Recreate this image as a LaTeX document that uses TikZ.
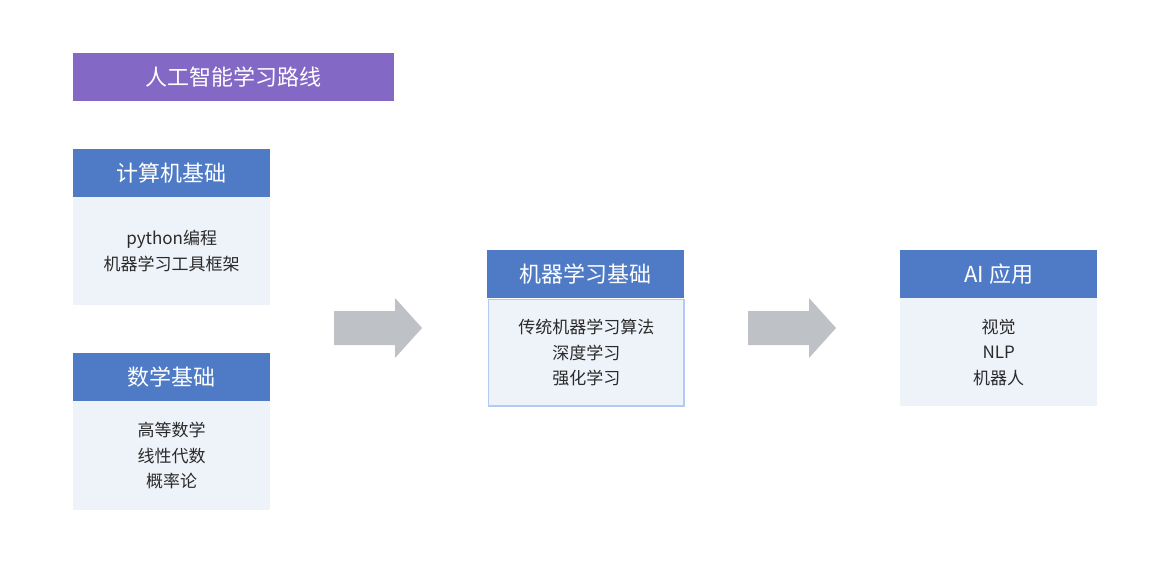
\documentclass[tikz,border=0pt]{standalone}
\usepackage{fontspec}
\setmainfont{Noto Sans CJK SC}
\definecolor{titlec}{HTML}{8468C6}
\definecolor{headc}{HTML}{4F7BC6}
\definecolor{bodyc}{HTML}{EEF2F9}
\definecolor{borderc}{HTML}{B3CBF2}
\definecolor{arrowc}{HTML}{BEC1C5}
\definecolor{textc}{HTML}{2A2A2A}
\tikzset{
  x=1pt,y=-1pt,
  headbox/.style={fill=headc,draw=none,minimum width=197pt,minimum height=48pt,inner sep=0pt,text=white,font=\fontsize{22}{24}\selectfont,anchor=north west},
  bodybox/.style={fill=bodyc,draw=none,minimum width=197pt,minimum height=108pt,inner sep=0pt,text=textc,font=\fontsize{17}{25.5}\selectfont,align=center,anchor=north west},
  bigarrow/.style={fill=arrowc,draw=none},
}
\begin{document}
\begin{tikzpicture}
\useasboundingbox (0,0) rectangle (1157,572);
\fill[white] (0,0) rectangle (1157,572);
\node[fill=titlec,minimum width=321pt,minimum height=48pt,inner sep=0pt,text=white,font=\fontsize{22}{24}\selectfont,anchor=north west] (title) at (73,53) {人工智能学习路线};
% box 1
\node[headbox] (h1) at (73,149) {计算机基础};
\node[bodybox] (b1) at (73,197) {python编程\\机器学习工具框架};
% box 2
\node[headbox] (h2) at (73,353) {数学基础};
\node[bodybox,minimum height=109pt] (b2) at (73,401) {高等数学\\线性代数\\概率论};
% box 3
\node[headbox] (h3) at (487,250) {机器学习基础};
\node[bodybox,draw=borderc,line width=1.5pt,minimum width=195.5pt,minimum height=106.5pt] (b3) at (487.75,298.75) {传统机器学习算法\\深度学习\\强化学习};
% box 4
\node[headbox] (h4) at (900,250) {AI 应用};
\node[bodybox] (b4) at (900,298) {视觉\\NLP\\机器人};
% arrows
\coordinate (a1) at (334,328);
\coordinate (a2) at (748,328);
\foreach \a in {a1,a2}{
  \fill[bigarrow] ([shift={(0,-17)}]\a) -- ([shift={(61,-17)}]\a) -- ([shift={(61,-30)}]\a) -- ([shift={(88,0)}]\a) -- ([shift={(61,30)}]\a) -- ([shift={(61,17)}]\a) -- ([shift={(0,17)}]\a) -- cycle;
}
\end{tikzpicture}
\end{document}
